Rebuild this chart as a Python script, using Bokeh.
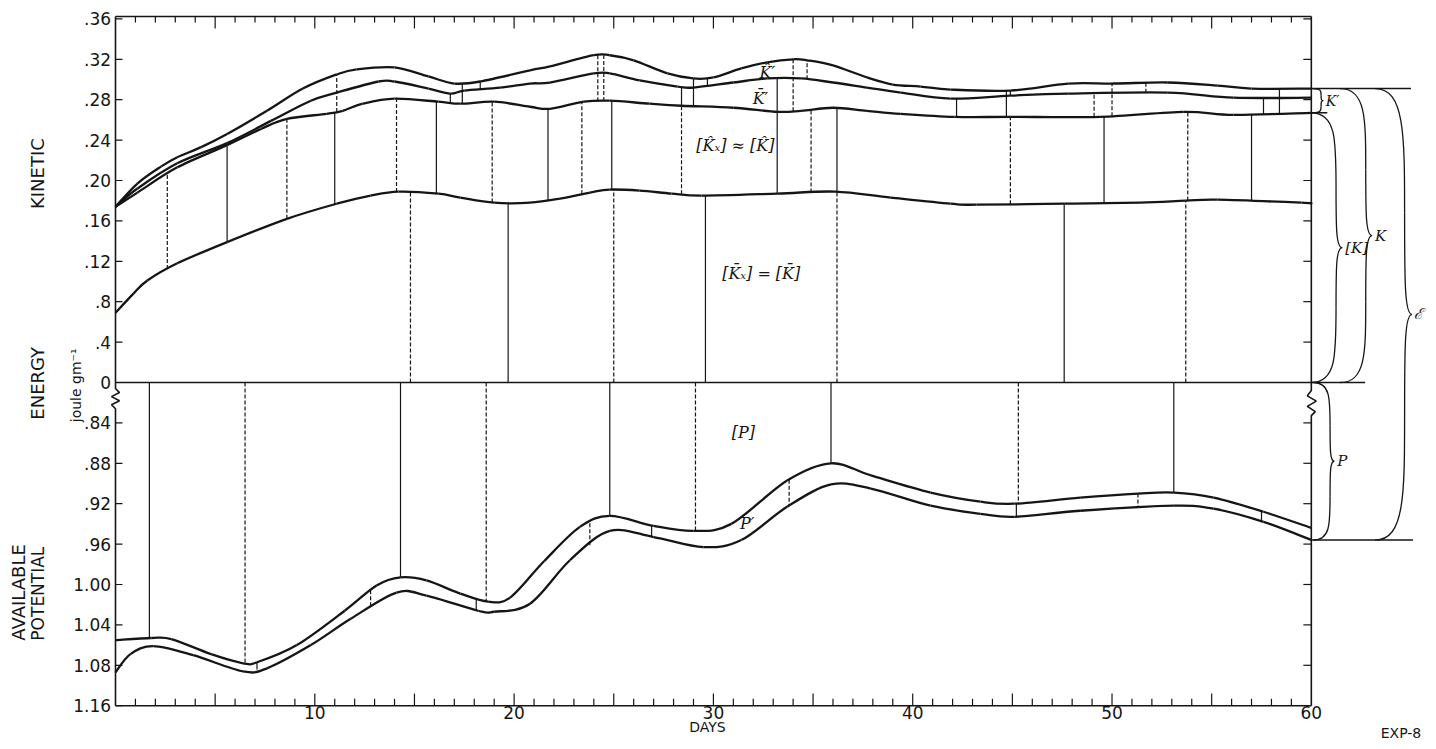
import numpy as np
from bokeh.plotting import figure
from bokeh.models import Range1d
from bokeh.core.properties import value
from bokeh.embed import file_html
from bokeh.resources import INLINE

# ---------------- data ----------------
day_ticks = [10, 20, 30, 40, 50, 60]
kin_tick_vals = [0.36, 0.32, 0.28, 0.24, 0.20, 0.16, 0.12, 0.08, 0.04, 0.0]
kin_tick_text = [".36", ".32", ".28", ".24", ".20", ".16", ".12", ".8", ".4", "0"]
pot_tick_vals = [0.84, 0.88, 0.92, 0.96, 1.00, 1.04, 1.08, 1.12]
pot_tick_text = [".84", ".88", ".92", ".96", "1.00", "1.04", "1.08", "1.16"]

# kinetic energy (joule/gm): total K (top curve)
k_total_days = [0, 1.1, 2.3, 3.1, 4.3, 5.6, 7.6, 9.4, 11.1, 12.1, 14.0, 15.7, 17.0, 18.3,
                20.8, 21.8, 24.0, 24.8, 26.0, 27.7, 29.0, 30.0, 31.4, 32.7, 34.0, 34.7,
                36.0, 37.7, 39.0, 40.4, 41.9, 44.9, 47.8, 50.1, 52.8, 55.3, 57.0, 60.0]
k_total = [.174, .197, .214, .223, .233, .246, .269, .291, .305, .310, .312, .303, .296, .298,
           .309, .313, .324, .324, .319, .306, .301, .302, .311, .317, .320, .319,
           .314, .302, .295, .293, .290, .289, .296, .296, .297, .294, .291, .291]
# boundary between K-hat' and K-bar'
k_mid_days = [0, 1.1, 3.1, 5.6, 7.8, 9.8, 11.1, 13.2, 14.0, 15.7, 16.8, 17.5, 19.3, 20.8,
              21.8, 24.0, 24.8, 26.3, 28.2, 29.0, 31.0, 32.7, 34.4, 36.0, 37.7, 39.4,
              41.9, 44.9, 47.8, 52.8, 56.1, 60.0]
k_mid = [.174, .192, .217, .237, .259, .279, .287, .298, .298, .291, .286, .289, .292, .296,
         .297, .306, .306, .299, .293, .292, .297, .301, .301, .297, .292, .287,
         .281, .284, .286, .287, .282, .282]
# zonal kinetic energy [K]
k_zonal_days = [0, 1.1, 3.1, 5.6, 7.3, 8.6, 10.6, 11.4, 12.4, 14.0, 16.2, 17.3, 19.0, 20.8,
                21.8, 23.5, 24.8, 26.8, 28.4, 31.0, 33.2, 34.4, 36.0, 37.7, 39.4, 42.1,
                44.9, 49.4, 53.6, 56.1, 60.0]
k_zonal = [.174, .188, .213, .235, .251, .261, .266, .269, .276, .281, .278, .276, .278, .273,
           .271, .278, .279, .276, .274, .272, .268, .269, .272, .269, .266, .263,
           .263, .263, .268, .265, .267]
# mean zonal kinetic energy [K-bar]
k_mean_days = [0, 0.9, 1.6, 3.1, 5.6, 8.6, 11.1, 12.8, 14.2, 16.2, 17.3, 19.0, 20.8, 22.3,
               23.8, 24.8, 26.3, 27.9, 29.4, 33.2, 36.1, 38.9, 41.9, 43.2, 47.6, 51.4,
               53.7, 55.3, 59.5, 60.0]
k_mean = [.069, .088, .101, .118, .139, .162, .177, .185, .189, .187, .183, .178, .178, .182,
          .188, .191, .190, .187, .185, .187, .189, .183, .177, .176, .177, .178,
          .180, .181, .178, .177]
# available potential energy: zonal [P] and total P
p_zonal_days = [0, 1.8, 2.8, 4.8, 6.4, 7.1, 9.1, 11.5, 13.1, 14.3, 15.6, 17.3, 18.7, 19.8,
                21.5, 23.3, 24.8, 27.0, 29.0, 30.9, 33.7, 35.9, 37.9, 40.9, 43.4, 45.1,
                48.4, 51.3, 53.1, 55.1, 57.6, 60.0]
p_zonal = [1.055, 1.053, 1.054, 1.069, 1.078, 1.077, 1.060, 1.026, 1.001, 0.993, 0.996, 1.009,
           1.017, 1.013, 0.977, 0.943, 0.932, 0.942, 0.947, 0.940, 0.897, 0.880, 0.892,
           0.909, 0.918, 0.920, 0.914, 0.910, 0.909, 0.914, 0.928, 0.944]
p_total_days = [0, 0.75, 1.9, 3.9, 6.4, 7.6, 9.8, 11.8, 14.1, 15.6, 18.2, 19.0, 20.8, 22.8,
                24.8, 27.0, 29.5, 31.4, 33.7, 35.9, 37.9, 40.9, 43.4, 45.1, 48.4, 53.1,
                55.1, 57.6, 60.0]
p_total = [1.087, 1.069, 1.061, 1.070, 1.086, 1.083, 1.060, 1.034, 1.008, 1.011, 1.026, 1.027,
           1.019, 0.976, 0.947, 0.953, 0.963, 0.956, 0.923, 0.901, 0.905, 0.922, 0.930,
           0.933, 0.927, 0.922, 0.925, 0.938, 0.956]

# days of the vertical connector lines (solid / dashed) between curves
zero_to_mean_solid = [19.7, 29.6, 47.6]
zero_to_mean_dashed = [14.8, 25.0, 36.2, 53.7]
mean_to_zonal_solid = [5.6, 11.0, 16.1, 21.7, 24.9, 33.2, 36.2, 49.6, 57.0]
mean_to_zonal_dashed = [2.6, 8.6, 14.1, 18.9, 23.4, 28.4, 34.9, 44.9, 53.8]
zonal_to_mid_solid = [16.8, 28.4, 33.2, 42.2, 57.6]
zonal_to_mid_dashed = [49.1]
zonal_to_total_solid = [17.4, 29.0, 44.7, 58.4]
zonal_to_total_dashed = [11.1, 24.2, 24.5, 34.0, 50.0]
mid_to_total_solid = [18.3, 29.7, 44.9]
mid_to_total_dashed = [34.7, 51.7]
zero_to_pz_solid = [1.7, 14.3, 24.8, 35.9, 53.1]
zero_to_pz_dashed = [6.5, 18.6, 29.1, 45.3]
pz_to_pt_solid = [7.1, 18.1, 26.9, 45.2, 57.5]
pz_to_pt_dashed = [12.8, 23.8, 33.8, 51.3]

# ---------------- scales: one tick step = 0.04 joule/gm ----------------
def uk(k):
    return np.asarray(k, dtype=float) / 0.04

def up(pv):
    return -(np.asarray(pv, dtype=float) - 0.80) / 0.04

INK = "#151515"
BOX_TOP, BOX_BOT = 9.06, -8.0

p = figure(width=1432, height=747, output_backend="svg", toolbar_location=None,
           x_range=Range1d(-5.770, 66.08), y_range=Range1d(-9.035, 9.455),
           min_border=0)
p.outline_line_color = None
p.grid.visible = False
p.axis.visible = False
p.background_fill_color = "white"

def txt(x, y, text, size="17px", align="left", baseline="middle", serif=False,
        italic=False, angle=0.0):
    x = list(np.atleast_1d(x)); y = list(np.atleast_1d(y))
    text = [text] * len(x) if isinstance(text, str) else list(text)
    p.text(x=x, y=y, text=text, angle=angle, text_align=align, text_baseline=baseline,
           text_color=INK,
           text_font=value("DejaVu Serif" if serif else "DejaVu Sans"),
           text_font_style="italic" if italic else "normal",
           text_font_size=value(size))

# tick positions in plot units
yt = [int(round(v)) for v in uk(kin_tick_vals)] + [int(round(v)) for v in up(pot_tick_vals)]
ylabels = kin_tick_text + pot_tick_text
txt([-0.22] * len(yt), yt, ylabels, size="17px", align="right")
txt(day_ticks, [BOX_BOT - 0.02] * len(day_ticks), [str(d) for d in day_ticks],
    size="17px", align="center", baseline="top")

# frame box with breaks
zz_l = [-0.15, -0.25, -0.35, -0.45, -0.55, -0.65]
zz_r = [-0.2, -0.33, -0.46, -0.59, -0.72, -0.82]
p.line([0, 60], [BOX_TOP, BOX_TOP], color=INK, line_width=1.6)
p.line([0, 60], [BOX_BOT, BOX_BOT], color=INK, line_width=1.6)
p.line([0, 0, 0.2, -0.2, 0.2, -0.2, 0, 0],
       [BOX_TOP, zz_l[0]] + zz_l[1:5] + [zz_l[5], BOX_BOT], color=INK, line_width=1.6)
p.line([60, 60, 59.8, 60.25, 59.8, 60.2, 60, 60],
       [BOX_TOP, zz_r[0]] + zz_r[1:5] + [zz_r[5], BOX_BOT], color=INK, line_width=1.6)
p.line([0, 62.7], [0, 0], color=INK, line_width=1.6)

# ticks on the box edges
minor = [d for d in range(1, 60) if d % 5]
major = [d for d in range(5, 60, 5)]
p.segment(minor, [BOX_TOP] * len(minor), minor, [BOX_TOP - 0.15] * len(minor), color=INK, line_width=1.2)
p.segment(major, [BOX_TOP] * len(major), major, [BOX_TOP - 0.3] * len(major), color=INK, line_width=1.2)
p.segment(minor, [BOX_BOT] * len(minor), minor, [BOX_BOT + 0.17] * len(minor), color=INK, line_width=1.2)
p.segment(major, [BOX_BOT] * len(major), major, [BOX_BOT + 0.3] * len(major), color=INK, line_width=1.2)
p.segment([0] * len(yt), yt, [0.35] * len(yt), yt, color=INK, line_width=1.2)
ryt = [t for t in yt if t != 0 and t > -8]
p.segment([60] * len(ryt), ryt, [59.6] * len(ryt), ryt, color=INK, line_width=1.2)

# curves, drawn as smooth Catmull-Rom bezier pieces through the read points
curves = {
    "kt": (k_total_days, uk(k_total)),
    "km": (k_mid_days, uk(k_mid)),
    "kz": (k_zonal_days, uk(k_zonal)),
    "kb": (k_mean_days, uk(k_mean)),
    "pz": (p_zonal_days, up(p_zonal)),
    "pt": (p_total_days, up(p_total)),
}

def smooth(dx, dy):
    x = np.asarray(dx, float); y = np.asarray(dy, float)
    n = len(x)
    xp = np.r_[x[0], x, x[-1]]; yp = np.r_[y[0], y, y[-1]]
    x0, y0 = x[:-1], y[:-1]
    x1, y1 = x[1:], y[1:]
    cx0 = x0 + (xp[2:n + 1] - xp[0:n - 1]) / 6.0
    cy0 = y0 + (yp[2:n + 1] - yp[0:n - 1]) / 6.0
    cx1 = x1 - (xp[3:n + 2] - xp[1:n]) / 6.0
    cy1 = y1 - (yp[3:n + 2] - yp[1:n]) / 6.0
    p.bezier(x0=x0, y0=y0, x1=x1, y1=y1, cx0=cx0, cy0=cy0, cx1=cx1, cy1=cy1,
             line_color=INK, line_width=2.3)

for key, (dx, dy) in curves.items():
    smooth(dx, dy)

def at(key, d):
    dx, dy = curves[key]
    return np.interp(d, dx, dy)

def connect(days, lo, hi, dashed):
    if not days:
        return
    d = np.asarray(days, dtype=float)
    y0 = np.zeros(len(d)) if lo == "0" else at(lo, d)
    y1 = np.zeros(len(d)) if hi == "0" else at(hi, d)
    p.segment(d, y0, d, y1, color=INK, line_width=1.2,
              line_dash="4 2" if dashed else "solid")

connect(zero_to_mean_solid, "0", "kb", False)
connect(zero_to_mean_dashed, "0", "kb", True)
connect(mean_to_zonal_solid, "kb", "kz", False)
connect(mean_to_zonal_dashed, "kb", "kz", True)
connect(zonal_to_mid_solid, "kz", "km", False)
connect(zonal_to_mid_dashed, "kz", "km", True)
connect(zonal_to_total_solid, "kz", "kt", False)
connect(zonal_to_total_dashed, "kz", "kt", True)
connect(mid_to_total_solid, "km", "kt", False)
connect(mid_to_total_dashed, "km", "kt", True)
connect(zero_to_pz_solid, "0", "pz", False)
connect(zero_to_pz_dashed, "0", "pz", True)
connect(pz_to_pt_solid, "pz", "pt", False)
connect(pz_to_pt_dashed, "pz", "pt", True)

# right-hand extension lines and braces
y_kt = float(uk(k_total[-1]))
y_kz = float(uk(k_zonal[-1]))
y_pt = float(up(p_total[-1]))
p.segment([60, 60, 60], [y_kt, y_kz, y_pt], [65.0, 60.8, 65.1], [y_kt, y_kz, y_pt],
          color=INK, line_width=1.4)

def brace(x0, yt_, yb, w, a=0.8):
    ym = (yt_ + yb) / 2.0
    H = (yt_ - yb) / 2.0
    xa = x0 + a * w
    p.bezier(x0=[x0, xa, x0 + w, xa], y0=[yt_, yt_ - 0.55 * H, ym, ym - 0.45 * H],
             x1=[xa, x0 + w, xa, x0], y1=[yt_ - 0.55 * H, ym, ym - 0.45 * H, yb],
             cx0=[xa] * 4, cy0=[yt_, ym + 0.15 * H, ym, yb + 0.2 * H],
             cx1=[xa] * 4, cy1=[yt_ - 0.2 * H, ym, ym - 0.15 * H, yb],
             line_color=INK, line_width=1.3)
    return x0 + w, ym

tx, ty = brace(60.05, y_kt, y_kz, 0.55)
txt(tx + 0.12, ty, "K\u2032", size="14px", serif=True, italic=True)
tx, ty = brace(60.0, y_kz, 0.0, 1.55)
txt(tx + 0.15, ty, "[K]", size="15px", serif=True, italic=True)
tx, ty = brace(61.45, y_kt, 0.0, 1.6)
txt(tx + 0.15, ty, "K", size="15px", serif=True, italic=True)
tx, ty = brace(63.2, y_kt, y_pt, 1.85)
txt(tx + 0.12, ty, "\u2130", size="15px", serif=True, italic=True)
tx, ty = brace(60.1, 0.0, y_pt, 1.05)
txt(tx + 0.15, ty, "P", size="15px", serif=True, italic=True)

# labels inside the chart
txt(32.7, 7.68, "K\u0302\u2032", size="16px", align="center", serif=True, italic=True)
txt(32.36, 7.03, "K\u0304\u2032", size="16px", align="center", serif=True, italic=True)
txt(31.1, 5.87, "[K\u0302\u2093] \u2248 [K\u0302]", size="16px", align="center", serif=True, italic=True)
txt(32.4, 2.70, "[K\u0304\u2093] = [K\u0304]", size="16px", align="center", serif=True, italic=True)
txt(31.5, -1.24, "[P]", size="16px", align="center", serif=True, italic=True)
txt(31.7, -3.49, "P\u2032", size="16px", align="center", serif=True, italic=True)

# axis titles
txt(-3.9, 5.17, "KINETIC", size="18px", align="center", angle=np.pi / 2)
txt(-3.9, -0.02, "ENERGY", size="18px", align="center", angle=np.pi / 2)
txt(-2.0, -0.07, "joule gm\u207b\u00b9", size="14px", align="center", angle=np.pi / 2)
txt(-4.85, -6.39, "AVAILABLE", size="18px", align="left", angle=np.pi / 2)
txt(-3.9, -6.39, "POTENTIAL", size="17px", align="left", angle=np.pi / 2)
txt(29.7, -8.52, "DAYS", size="14px", align="center")
txt(64.5, -8.68, "EXP-8", size="14px", align="center")

open("out.html", "w").write(file_html(p, INLINE))
